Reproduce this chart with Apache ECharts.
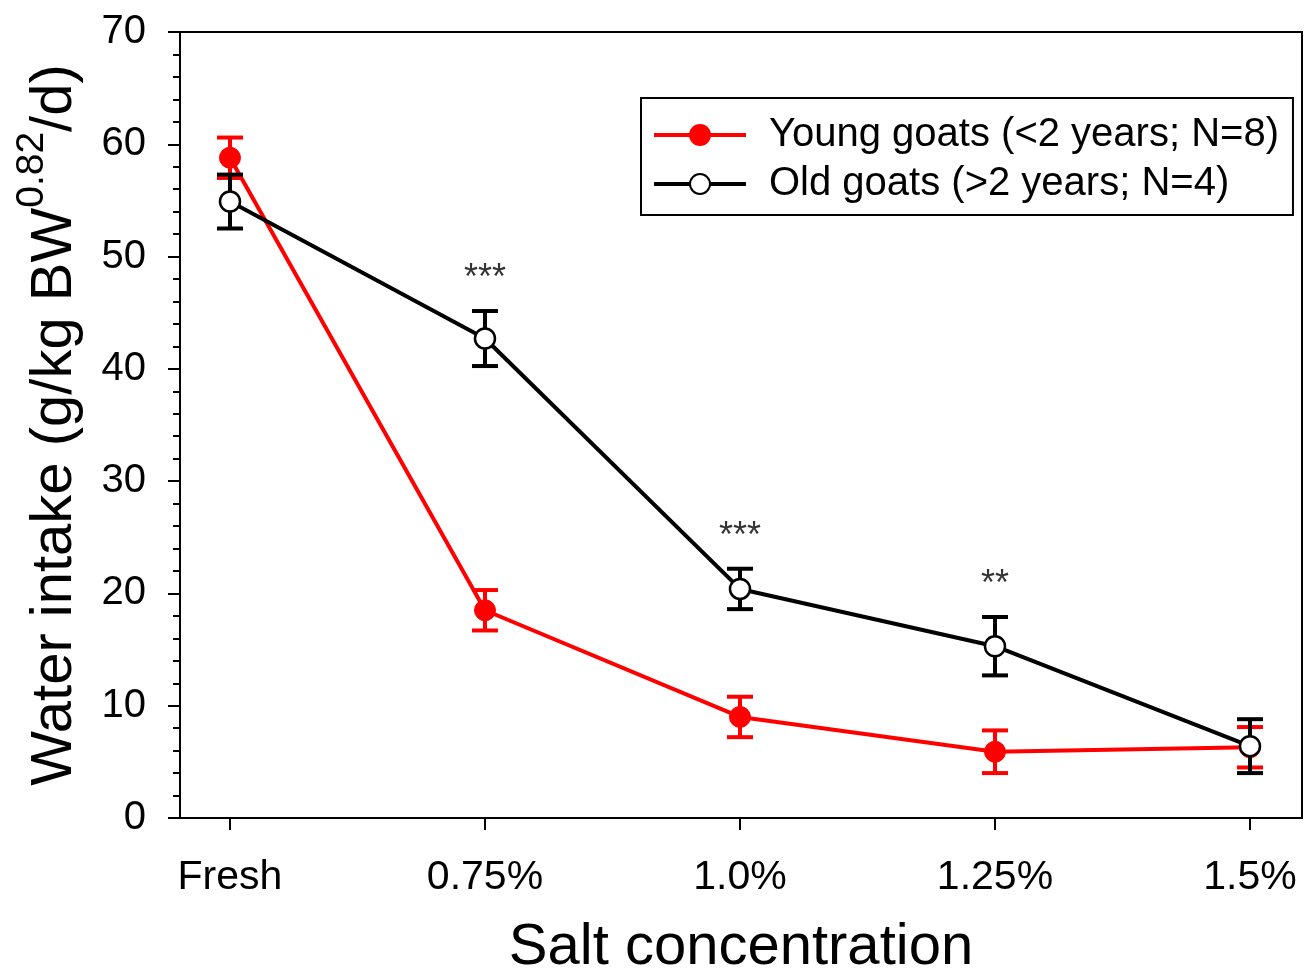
<!DOCTYPE html>
<html>
<head>
<meta charset="utf-8">
<script src="https://cdn.jsdelivr.net/npm/echarts@6/dist/echarts.min.js"></script>
<style>
html,body{margin:0;padding:0;background:#fff;}
#chart{width:1304px;height:972px;}
</style>
</head>
<body>
<div id="chart"></div>
<script>
const categories = ['Fresh', '0.75%', '1.0%', '1.25%', '1.5%'];
const youngMean = [58.8, 18.5, 9.0, 5.9, 6.3];
const youngErr = [1.8, 1.8, 1.8, 1.9, 1.8];
const oldMean = [54.9, 42.7, 20.4, 15.3, 6.4];
const oldErr = [2.4, 2.45, 1.8, 2.6, 2.4];
const signif = ['', '***', '***', '**', ''];
const yTicks = [0, 10, 20, 30, 40, 50, 60, 70];

const FONT = '"Liberation Sans", Arial, Helvetica, sans-serif';
const idx = categories.map((c, i) => i);

function errSeries(mean, err, color, name, z) {
  return {
    type: 'custom',
    name: name + '_err',
    silent: true,
    z: z,
    data: idx.map(i => [i, mean[i] - err[i], mean[i] + err[i]]),
    renderItem: function (params, api) {
      const x = api.value(0);
      const lo = api.coord([x, api.value(1)]);
      const hi = api.coord([x, api.value(2)]);
      const hw = 13;
      const st = { stroke: color, lineWidth: 4 };
      return {
        type: 'group',
        children: [
          { type: 'line', shape: { x1: lo[0], y1: lo[1], x2: hi[0], y2: hi[1] }, style: st },
          { type: 'line', shape: { x1: lo[0] - hw, y1: lo[1], x2: lo[0] + hw, y2: lo[1] }, style: st },
          { type: 'line', shape: { x1: hi[0] - hw, y1: hi[1], x2: hi[0] + hw, y2: hi[1] }, style: st }
        ]
      };
    }
  };
}

const chart = echarts.init(document.getElementById('chart'));
chart.setOption({
  animation: false,
  backgroundColor: '#fff',
  textStyle: { fontFamily: FONT, color: '#000' },
  grid: {
    left: 180, right: 2, top: 32, bottom: 154,
    outerBoundsMode: 'none',
    containLabel: false,
    show: true, borderColor: '#000', borderWidth: 2, backgroundColor: 'transparent'
  },
  legend: {
    orient: 'vertical',
    left: 641, top: 98,
    data: ['Young goats (<2 years; N=8)', 'Old goats (>2 years; N=4)'],
    itemWidth: 92, itemHeight: 25, itemGap: 9,
    padding: [17, 14, 11, 11],
    borderColor: '#000', borderWidth: 2,
    backgroundColor: '#fff',
    lineStyle: { width: 4 },
    textStyle: { fontFamily: FONT, fontSize: 40, color: '#000', lineHeight: 40, padding: [0, 0, 0, 18] }
  },
  xAxis: {
    type: 'value',
    min: -0.196, max: 4.204,
    name: 'Salt concentration',
    nameLocation: 'middle',
    nameGap: 101,
    nameTextStyle: { fontFamily: FONT, fontSize: 58, color: '#000' },
    axisLine: { show: true, onZero: false, lineStyle: { color: '#000', width: 2 } },
    axisTick: { show: true, length: 12, lineStyle: { color: '#000', width: 2 }, customValues: idx },
    axisLabel: {
      fontFamily: FONT, fontSize: 41, color: '#000', margin: 39,
      customValues: idx,
      formatter: v => categories[Math.round(v)]
    },
    splitLine: { show: false }
  },
  yAxis: {
    type: 'value',
    min: 0, max: 70, interval: 10,
    name: '{m|Water intake (g/kg BW}{sup|0.82}{m|/d)}{h|\u200b}',
    nameLocation: 'middle',
    nameRotate: 90,
    nameGap: 96,
    nameTextStyle: {
      fontFamily: FONT, fontSize: 58, color: '#000',
      rich: {
        m: { fontFamily: FONT, fontSize: 58, color: '#000', lineHeight: 58, verticalAlign: 'bottom' },
        sup: { fontFamily: FONT, fontSize: 39, color: '#000', lineHeight: 39, verticalAlign: 'top' },
        h: { fontFamily: FONT, fontSize: 10, lineHeight: 71 }
      }
    },
    axisLine: { show: true, onZero: false, lineStyle: { color: '#000', width: 2 } },
    axisTick: { show: true, length: 12, lineStyle: { color: '#000', width: 2 } },
    minorTick: { show: true, splitNumber: 5, length: 7, lineStyle: { color: '#000', width: 2 } },
    axisLabel: {
      fontFamily: FONT, fontSize: 40, color: '#000', margin: 34,
      formatter: v => (yTicks.indexOf(v) >= 0 ? String(v) : '')
    },
    splitLine: { show: false }
  },
  series: [
    errSeries(youngMean, youngErr, '#ff0000', 'young', 2),
    {
      type: 'line',
      name: 'Young goats (<2 years; N=8)',
      data: idx.map(i => [i, youngMean[i]]),
      symbol: 'circle', symbolSize: 21,
      lineStyle: { color: '#ff0000', width: 4 },
      itemStyle: { color: '#ff0000', borderColor: '#ff0000', borderWidth: 1 },
      z: 3
    },
    errSeries(oldMean, oldErr, '#000000', 'old', 4),
    {
      type: 'line',
      name: 'Old goats (>2 years; N=4)',
      data: idx.map(i => [i, oldMean[i]]),
      symbol: 'circle', symbolSize: 20,
      lineStyle: { color: '#000', width: 4 },
      itemStyle: { color: '#fff', borderColor: '#000', borderWidth: 2.5 },
      z: 5
    },
    {
      type: 'scatter',
      name: 'signif',
      silent: true,
      symbolSize: 0,
      data: idx.map(i => [i, oldMean[i] + oldErr[i]]),
      label: {
        show: true, position: 'top', distance: 14,
        fontFamily: FONT, fontSize: 36, color: '#000',
        formatter: p => signif[p.dataIndex]
      },
      z: 6
    }
  ]
});
</script>
</body>
</html>
